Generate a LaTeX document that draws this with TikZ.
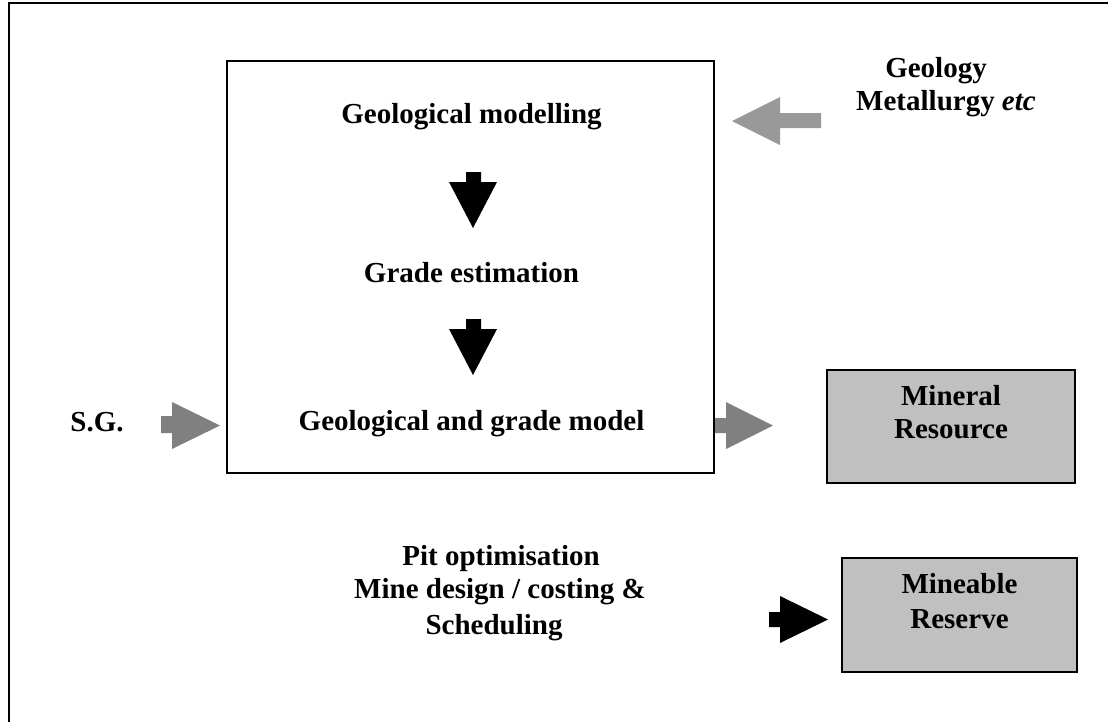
\documentclass[tikz,border=0pt]{standalone}
\usepackage{fontspec}
\setmainfont{Liberation Serif}
\usetikzlibrary{calc}
\definecolor{arrgray}{HTML}{808080}
\definecolor{arrlight}{HTML}{999999}
\definecolor{boxgray}{HTML}{C0C0C0}
\begin{document}
\begin{tikzpicture}[x=1pt,y=-1pt,
  lbl/.style={inner sep=0pt,align=center,font=\fontsize{29}{33}\selectfont\bfseries},
  mainbox/.style={draw=black,line width=1.5pt,inner sep=0pt},
  resbox/.style={draw=black,fill=boxgray,line width=2pt,inner sep=0pt}]
\useasboundingbox (0,0) rectangle (1108,721);
\clip (0,0) rectangle (1108,721);
% outer frame (cropped by the picture edge)
\draw[line width=2pt] (9,760) -- (9,3) -- (1130,3);
% main box
\node[mainbox,minimum width=487pt,minimum height=412pt] (main) at (470.5,267) {};
% texts inside main box
\node[lbl,anchor=base] (geo) at (471.5,123) {Geological modelling};
\node[lbl,anchor=base] (grade) at (471.5,282) {Grade estimation};
\node[lbl,anchor=base] (model) at (471.5,430) {Geological and grade model};
% black down arrows
\fill[black] (466,172) -- (481,172) -- (481,182) -- (497,182) -- (473,228) -- (449,182) -- (466,182) -- cycle;
\fill[black] (466,319) -- (481,319) -- (481,329) -- (497,329) -- (473,375) -- (449,329) -- (466,329) -- cycle;
% S.G.
\node[lbl,anchor=base] (sg) at (97,431) {S.G.};
\fill[arrgray] (161,416) -- (172,416) -- (172,402) -- (220,425.5) -- (172,449) -- (172,433) -- (161,433) -- cycle;
% Geology / Metallurgy
\node[lbl,anchor=base] (geol1) at (936,77) {Geology};
\node[lbl,anchor=base] (geol2) at (946,110) {Metallurgy \textit{etc}};
\fill[arrlight] (821,113) -- (780,113) -- (780,97) -- (732,121) -- (780,145) -- (780,128) -- (821,128) -- cycle;
% Mineral Resource
\node[resbox,minimum width=248pt,minimum height=113pt] (mr) at (951,426.5) {};
\node[lbl,anchor=base] (mrt1) at (951,405) {Mineral};
\node[lbl,anchor=base] (mrt2) at (951,438) {Resource};
\fill[arrgray] (715,418) -- (726,418) -- (726,402) -- (773,425.5) -- (726,449) -- (726,433) -- (715,433) -- cycle;
% Pit optimisation
\node[lbl,anchor=base] (pit1) at (501,565) {Pit optimisation};
\node[lbl,anchor=base] (pit2) at (500,598) {Mine design / costing \&};
\node[lbl,anchor=base] (pit3) at (494,634) {Scheduling};
% Mineable Reserve
\node[resbox,minimum width=235pt,minimum height=114pt] (mrv) at (959.5,615) {};
\node[lbl,anchor=base] (mrv1) at (959.5,593) {Mineable};
\node[lbl,anchor=base] (mrv2) at (959.5,628) {Reserve};
\fill[black] (769,612) -- (780,612) -- (780,596) -- (828,619.5) -- (780,643) -- (780,627) -- (769,627) -- cycle;
\end{tikzpicture}
\end{document}
